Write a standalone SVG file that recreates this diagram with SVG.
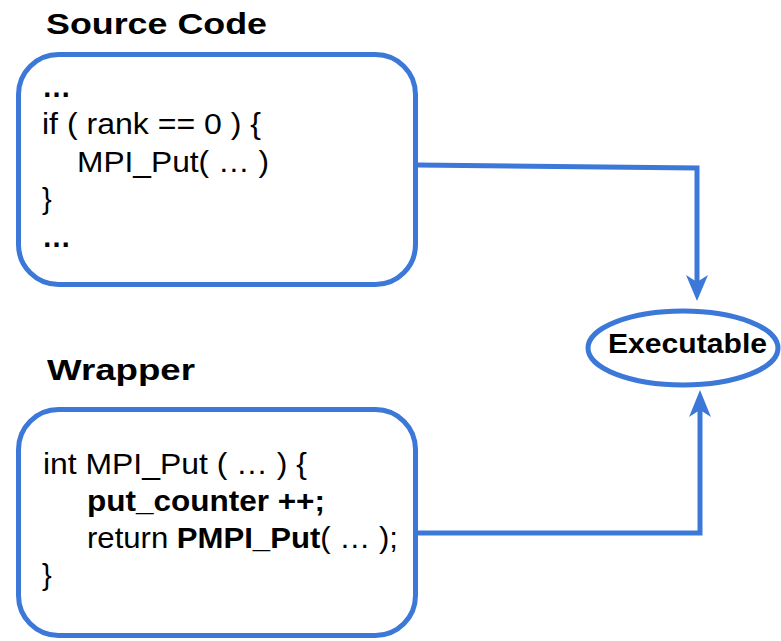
<svg xmlns="http://www.w3.org/2000/svg" width="781" height="641" viewBox="0 0 781 641">
<style>
.box{fill:#fff;stroke:#3c78d8;stroke-width:5}
.title{font-family:"Liberation Sans",Arial,sans-serif;font-weight:bold;font-size:30px;fill:#000}
.code{font-family:"Liberation Sans",Arial,sans-serif;font-size:29px;fill:#000}
.b{font-weight:bold}
.conn{fill:none;stroke:#3c78d8;stroke-width:5}
.head{fill:#3c78d8;stroke:none}
</style>
<rect width="781" height="641" fill="#fff"/>
<g id="title-source"><text class="title" x="46" y="34" textLength="221" lengthAdjust="spacingAndGlyphs">Source Code</text></g>
<g id="title-wrapper"><text class="title" x="47" y="380" textLength="148" lengthAdjust="spacingAndGlyphs">Wrapper</text></g>
<g id="connectors">
<path class="conn" d="M417,165 L697,168 L697,282"/>
<polygon class="head" points="697,301 686,275 697,282 708,275"/>
<path class="conn" d="M417,533 L700,533 L700,410"/>
<polygon class="head" points="700,390 689,417 700,410 711,417"/>
</g>
<g id="source-code">
<rect class="box" x="18.5" y="54.5" width="397" height="230" rx="40" ry="40"/>
<text class="code b" x="42" y="97">…</text>
<text class="code" x="42" y="134" textLength="219" lengthAdjust="spacingAndGlyphs">if ( rank == 0 ) {</text>
<text class="code" x="77" y="172" textLength="192" lengthAdjust="spacingAndGlyphs">MPI_Put( … )</text>
<text class="code" x="42" y="209">}</text>
<text class="code b" x="42" y="247">…</text>
</g>
<g id="wrapper">
<rect class="box" x="18.5" y="409.5" width="397" height="226" rx="40" ry="40"/>
<text class="code" x="43" y="474" textLength="264" lengthAdjust="spacingAndGlyphs">int MPI_Put ( … ) {</text>
<text class="code b" x="87" y="511" textLength="238" lengthAdjust="spacingAndGlyphs">put_counter ++;</text>
<text class="code" x="87" y="548" textLength="311" lengthAdjust="spacingAndGlyphs">return <tspan class="b">PMPI_Put</tspan>( … );</text>
<text class="code" x="42" y="585">}</text>
</g>
<g id="executable">
<ellipse class="box" cx="683" cy="348" rx="95" ry="37"/>
<text class="title" x="608" y="353" style="font-size:28px" textLength="159" lengthAdjust="spacingAndGlyphs">Executable</text>
</g>
</svg>
